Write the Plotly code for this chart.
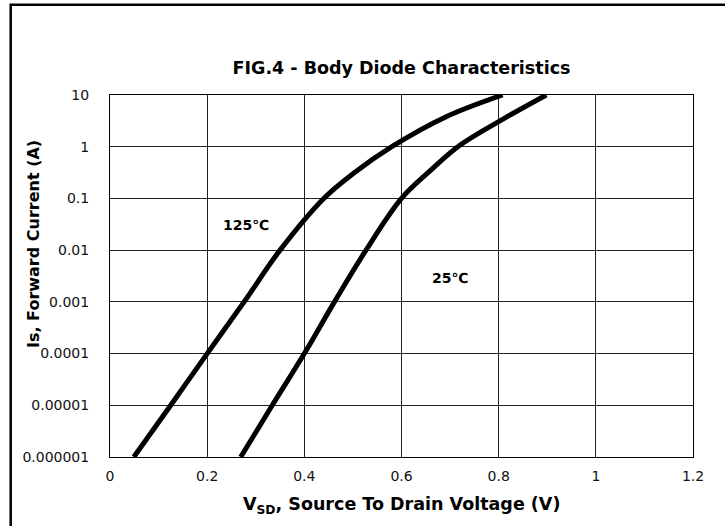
import math
import plotly.graph_objects as go

# Data
v_125 = [0.049, 0.125, 0.200, 0.276, 0.350, 0.440, 0.500, 0.580, 0.692, 0.808]
i_125 = [1e-6, 1e-5, 1e-4, 1e-3, 1e-2, 0.1, 0.30, 1.0, 3.8, 10]

v_25 = [0.269, 0.334, 0.400, 0.462, 0.527, 0.600, 0.658, 0.716, 0.800, 0.898]
i_25 = [1e-6, 1e-5, 1e-4, 1e-3, 1e-2, 0.1, 0.336, 1.0, 3.06, 10]

y_tickvals = [10, 1, 0.1, 0.01, 0.001, 0.0001, 0.00001, 0.000001]
y_ticktext = ["10", "1", "0.1", "0.01", "0.001", "0.0001", "0.00001", "0.000001"]
x_tickvals = [0, 0.2, 0.4, 0.6, 0.8, 1.0, 1.2]
x_ticktext = ["0", "0.2", "0.4", "0.6", "0.8", "1", "1.2"]

label_125 = "125℃"
label_125_pos = (0.28, 0.030)
label_25 = "25℃"
label_25_pos = (0.699, 0.0029)

FONT = "'DejaVu Sans', sans-serif"

fig = go.Figure()
for v, i in [(v_125, i_125), (v_25, i_25)]:
    fig.add_trace(go.Scatter(x=v, y=i, mode="lines",
                             line=dict(color="black", width=5, shape="spline", smoothing=1.0),
                             showlegend=False, hoverinfo="skip"))

W, H = 725, 526
L, R, T, B = 110, 32, 95, 69
pw, ph = W - L - R, H - T - B

def px_x(p):
    return (p - L) / pw

def px_y(p):
    return (H - B - p) / ph

fig.add_shape(type="rect", xref="paper", yref="paper",
              x0=px_x(10.7), x1=px_x(730), y0=px_y(4.7), y1=px_y(532),
              line=dict(color="black", width=2.5), fillcolor="rgba(0,0,0,0)", layer="above")

for txt, (lx, ly) in [(label_125, label_125_pos), (label_25, label_25_pos)]:
    fig.add_annotation(x=lx, y=math.log10(ly), xref="x", yref="y",
                       text=txt, showarrow=False,
                       font=dict(family=FONT, size=14, color="black", weight="bold"))

# axis titles
fig.add_annotation(xref="paper", yref="paper", x=px_x(33), y=px_y(244),
                   xanchor="center", yanchor="middle",
                   text="<b>Is, Forward Current (A)</b>", textangle=-90, showarrow=False,
                   font=dict(family=FONT, size=16, color="black"))
fig.add_annotation(xref="paper", yref="paper", x=px_x(401), y=px_y(505),
                   xanchor="center", yanchor="middle",
                   text="<b>V<sub>SD</sub>, Source To Drain Voltage (V)</b>", showarrow=False,
                   font=dict(family=FONT, size=17.5, color="black"))

fig.update_layout(
    width=W, height=H,
    margin=dict(l=L, r=R, t=T, b=B),
    paper_bgcolor="white", plot_bgcolor="white",
    font=dict(family=FONT, color="black"),
    title=dict(text="<b>FIG.4 - Body Diode Characteristics</b>",
               x=(L + pw / 2) / W, xanchor="center",
               y=1 - 68 / H, yanchor="middle",
               font=dict(family=FONT, size=17.5, color="black")),
)

fig.update_xaxes(range=[0, 1.2], tickvals=x_tickvals, ticktext=x_ticktext,
                 showgrid=True, gridcolor="#222", gridwidth=1,
                 showline=True, linecolor="black", linewidth=1, mirror=True,
                 zeroline=False, ticks="", ticklabelstandoff=6,
                 tickfont=dict(family=FONT, size=14, color="#111"))
fig.update_yaxes(type="log", range=[-6, 1], tickvals=y_tickvals, ticktext=y_ticktext,
                 showgrid=True, gridcolor="#222", gridwidth=1,
                 showline=True, linecolor="black", linewidth=1, mirror=True,
                 zeroline=False, ticks="", ticklabelstandoff=17,
                 tickfont=dict(family=FONT, size=14, color="#111"))

fig.write_html("out.html", config={"displayModeBar": False},
               post_script="document.body.style.margin='0';")
